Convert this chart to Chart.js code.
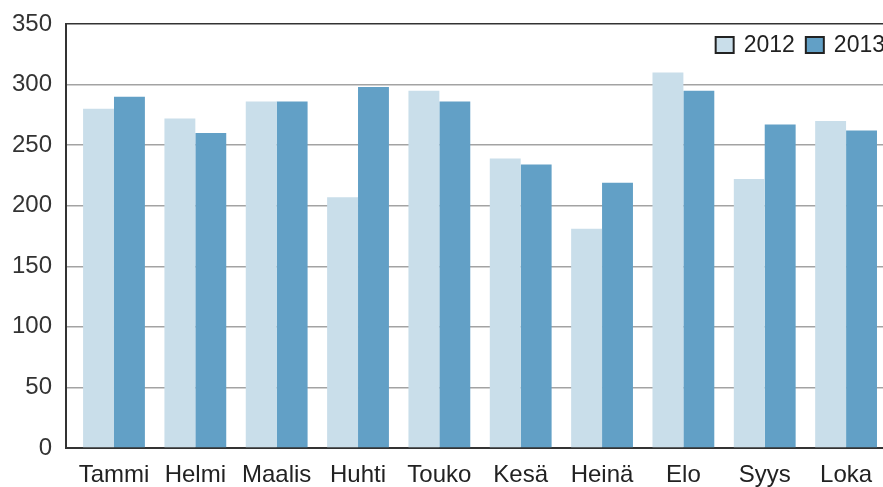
<!DOCTYPE html>
<html lang="fi">
    <head>
        <meta charset="UTF-8" />
        <title>Kuukausittain 2012-2013</title>
        <script src="https://cdn.jsdelivr.net/npm/chart.js"></script>
        <style>
            html,
            body {
                margin: 0;
                padding: 0;
                overflow: hidden;
                background: #fff;
            }
        </style>
    </head>
    <body>
        <!-- canvas is a bit wider than the window so the right edge gets cut like in the original -->
        <canvas id="chart1" width="890" height="487"></canvas>
        <script>
            const months = ['Tammi', 'Helmi', 'Maalis', 'Huhti', 'Touko', 'Kesä', 'Heinä', 'Elo', 'Syys', 'Loka'];
            const years = ['2012', '2013'];
            const values2012 = [280, 272, 286, 207, 295, 239, 181, 310, 222, 270];
            const values2013 = [290, 260, 286, 298, 286, 234, 219, 295, 267, 262];
            const yTicks = [0, 50, 100, 150, 200, 250, 300, 350];

            const FONT = "'Liberation Sans', Arial, sans-serif";

            // linear x so the first month can sit a little away from the y axis
            const toPoints = (arr) => arr.map((v, i) => ({ x: i, y: v }));

            // legend drawn inside the plot, top right (the built-in one won't sit there in a row)
            const insideLegend = {
                id: 'insideLegend',
                afterDraw(chart) {
                    const c = chart.ctx;
                    const area = chart.chartArea;
                    c.save();
                    c.font = '23px ' + FONT;
                    c.textBaseline = 'middle';
                    const boxW = 18, boxH = 16, gap = 10, between = 11;
                    const items = chart.data.datasets.map((ds) => ({
                        text: ds.label,
                        color: ds.backgroundColor,
                        w: c.measureText(ds.label).width,
                    }));
                    let total = 0;
                    items.forEach((it, i) => {
                        total += boxW + gap + it.w + (i > 0 ? between : 0);
                    });
                    let x = area.right - 5 - total;
                    const top = area.top + 13;
                    items.forEach((it) => {
                        c.fillStyle = it.color;
                        c.fillRect(x, top, boxW, boxH);
                        c.strokeStyle = '#222';
                        c.lineWidth = 2;
                        c.strokeRect(x, top, boxW, boxH);
                        x += boxW + gap;
                        c.fillStyle = '#222';
                        c.fillText(it.text, x, top + boxH / 2 + 1);
                        x += it.w + between;
                    });
                    c.restore();
                },
            };

            const ctx = document.getElementById('chart1').getContext('2d');
            new Chart(ctx, {
                type: 'bar',
                data: {
                    datasets: [
                        {
                            label: years[0],
                            data: toPoints(values2012),
                            backgroundColor: '#c9deea',
                            borderWidth: 0,
                        },
                        {
                            label: years[1],
                            data: toPoints(values2013),
                            backgroundColor: '#62a0c6',
                            borderWidth: 0,
                        },
                    ],
                },
                plugins: [insideLegend],
                options: {
                    responsive: false,
                    animation: false,
                    barPercentage: 1,
                    categoryPercentage: 0.76,
                    layout: {
                        padding: { top: 24, right: 0, bottom: 0, left: 0 },
                    },
                    plugins: {
                        tooltip: { enabled: false },
                        legend: { display: false },
                    },
                    scales: {
                        x: {
                            type: 'linear',
                            offset: false,
                            min: -0.59,
                            max: 9.54,
                            grid: { display: false },
                            border: { display: true, color: '#333', width: 2 },
                            afterBuildTicks: (scale) => {
                                scale.ticks = months.map((m, i) => ({ value: i }));
                            },
                            afterFit: (scale) => {
                                scale.height = 39;
                                scale.paddingLeft = 0;
                                scale.paddingRight = 0;
                            },
                            ticks: {
                                autoSkip: false,
                                maxRotation: 0,
                                padding: 5,
                                color: '#222',
                                font: { family: FONT, size: 24 },
                                callback: (v) => months[v],
                            },
                        },
                        y: {
                            min: 0,
                            max: 350,
                            afterBuildTicks: (scale) => {
                                scale.ticks = yTicks.map((v) => ({ value: v }));
                            },
                            afterFit: (scale) => {
                                scale.width = 66;
                                scale.paddingTop = 0;
                                scale.paddingBottom = 0;
                            },
                            grid: {
                                drawTicks: false,
                                lineWidth: 1.5,
                                color: (c) => (c.tick && c.tick.value === 350 ? '#333' : '#a3a3a3'),
                            },
                            border: { display: true, color: '#333', width: 2 },
                            ticks: {
                                padding: 14,
                                color: '#333',
                                font: { family: FONT, size: 24 },
                            },
                        },
                    },
                },
            });
        </script>
    </body>
</html>
